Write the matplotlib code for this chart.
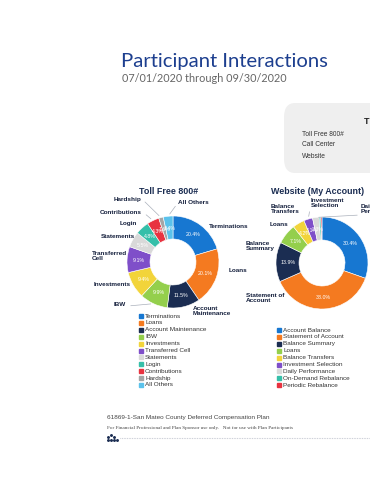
import numpy as np
import matplotlib.pyplot as plt
from matplotlib.lines import Line2D
from matplotlib.patches import FancyBboxPatch

W, H = 370, 480

# data
toll_labels = ['Terminations', 'Loans', 'Account Maintenance', 'IBW', 'Investments',
               'Transferred Cell', 'Statements', 'Login', 'Contributions', 'Hardship', 'All Others']
toll_values = [20.4, 20.1, 11.5, 9.9, 9.4, 9.1, 5.5, 4.8, 4.3, 1.6, 3.4]
toll_colors = ['#1777d1', '#f47a20', '#1b2d52', '#94cf4c', '#f2d43a',
               '#7f4fc9', '#d9d9d9', '#35bfa9', '#e83340', '#a5a5a5', '#5bc2eb']

web_labels = ['Account Balance', 'Statement of Account', 'Balance Summary', 'Loans',
              'Balance Transfers', 'Investment Selection', 'Daily Performance',
              'On-Demand Rebalance', 'Periodic Rebalance']
web_values = [30.4, 38.0, 13.9, 7.1, 4.2, 3.1, 2.3, 0.6, 0.4]
web_colors = ['#1777d1', '#f47a20', '#1b2d52', '#94cf4c', '#f2d43a',
              '#7f4fc9', '#d9d9d9', '#35bfa9', '#e83340']

channels = ['Toll Free 800#', 'Call Center', 'Website']

NAVY = '#1b2d52'
plt.rcParams['font.family'] = ['Liberation Sans', 'DejaVu Sans']


def P(x, y):
    return x / W, 1 - y / H


fig = plt.figure(figsize=(W / 100, H / 100), dpi=100)

# title block
fig.text(*P(121, 62), 'Participant Interactions', fontsize=14.6, color='#1d3f8f',
         va='center', ha='left', family=['Lato', 'DejaVu Sans'])
fig.text(*P(122, 79), '07/01/2020 through 09/30/2020', fontsize=7.8, color='#666666',
         va='center', ha='left', family=['Lato', 'DejaVu Sans'])

# grey box upper right
box = FancyBboxPatch(P(284, 173), 0.4, 70 / H, boxstyle='round,pad=0,rounding_size=0.03',
                     transform=fig.transFigure, facecolor='#efefef', edgecolor='none')
fig.patches.append(box)
fig.text(*P(364, 122), 'T', fontsize=6.5, weight='bold', va='center', ha='left', color='#222222')
for i, c in enumerate(channels):
    fig.text(*P(302, 134 + i * 11), c, fontsize=4.8, va='center', ha='left', color='#333333')


def donut(cx, cy, values, colors, title, tx):
    ax = fig.add_axes([(cx - 50) / W, 1 - (cy + 50) / H, 100 / W, 100 / H])
    wedges, _, pcts = ax.pie(values, colors=colors, startangle=90, counterclock=False,
                             radius=0.92, autopct=lambda p: '%.1f%%' % p if p > 1.5 else '',
                             pctdistance=0.74,
                             wedgeprops=dict(width=0.46, edgecolor='white', linewidth=0.4),
                             textprops=dict(color='white', fontsize=3.8))
    ax.set_xlim(-1, 1)
    ax.set_ylim(-1, 1)
    ax.set_aspect('equal')
    ax.axis('off')
    fig.text(*P(tx, 191), title, fontsize=6.4, weight='bold', color=NAVY, ha='center', va='center')
    return ax, wedges


def wedge_point(w, r=0.92):
    a = np.deg2rad((w.theta1 + w.theta2) / 2)
    return r * np.cos(a), r * np.sin(a)


ax1, w1 = donut(173, 262, toll_values, toll_colors, 'Toll Free 800#', 169)
ax2, w2 = donut(322, 263, web_values, web_colors, 'Website (My Account)', 318)

lab = dict(fontsize=4.6, weight='bold', color='#15203d', va='center', linespacing=1.0)

# toll free labels: (text, x, y, ha, wedge index with leader line or None)
toll_callouts = [
    ('Terminations', 209, 226, 'left', None),
    ('Loans', 229, 270, 'left', None),
    ('Account\nMaintenance', 193, 311, 'left', None),
    ('IBW', 126, 305, 'right', 3),
    ('Investments', 131, 285, 'right', None),
    ('Transferred\nCell', 92, 256, 'left', None),
    ('Statements', 135, 236, 'right', None),
    ('Login', 137, 224, 'right', None),
    ('Contributions', 142, 212, 'right', 8),
    ('Hardship', 141, 199, 'right', 9),
    ('All Others', 178, 203, 'left', 10),
]
for t, x, y, ha, wi in toll_callouts:
    fig.text(*P(x, y), t, ha=ha, **lab)
    if wi is not None:
        ex = x + 2 if ha == 'right' else x - 1
        ax1.annotate('', xy=wedge_point(w1[wi]), xycoords='data',
                     xytext=P(ex, y + 1), textcoords='figure fraction',
                     arrowprops=dict(arrowstyle='-', color='#aab0bb', lw=0.5))

web_callouts = [
    ('Balance\nTransfers', 271, 209, 'left', None),
    ('Investment\nSelection', 311, 203, 'left', 5),
    ('Daily\nPerformance', 361, 209, 'left', 6),
    ('Loans', 270, 225, 'left', None),
    ('Balance\nSummary', 246, 246, 'left', None),
    ('Statement of\nAccount', 246, 298, 'left', None),
]
for t, x, y, ha, wi in web_callouts:
    fig.text(*P(x, y), t, ha=ha, **lab)
    if wi is not None:
        ax2.annotate('', xy=wedge_point(w2[wi]), xycoords='data',
                     xytext=P(x - 1, y + 6), textcoords='figure fraction',
                     arrowprops=dict(arrowstyle='-', color='#aab0bb', lw=0.5))

# legends
def legend(x, y0, labels, colors):
    for i, (t, c) in enumerate(zip(labels, colors)):
        y = y0 + i * 6.9
        fig.add_artist(Line2D([P(x, y)[0]], [P(x, y)[1]], marker='s', markersize=2.3,
                              color=c, linestyle='none', transform=fig.transFigure))
        fig.text(*P(x + 4, y), t, fontsize=4.6, color='#333333', va='center', ha='left')


legend(141, 316, toll_labels, toll_colors)
legend(279, 330, web_labels, web_colors)

# footer
fig.text(*P(107, 418), '61869-1-San Mateo County Deferred Compensation Plan', fontsize=4.6,
         color='#444444', va='center', ha='left')
fig.text(*P(107, 428), 'For Financial Professional and Plan Sponsor use only.   Not for use with Plan Participants',
         fontsize=3.7, color='#444444', va='center', ha='left', family=['Liberation Serif', 'DejaVu Serif'])
fig.add_artist(Line2D([120 / W, 1], [1 - 438 / H] * 2, transform=fig.transFigure,
                      color='#b8bcc8', lw=0.8, linestyle=(0, (0.6, 0.9))))
for dx, dy in [(108, 437), (111, 435), (114, 437), (108, 440), (111, 440), (114, 440), (117, 440)]:
    fig.add_artist(Line2D([dx / W], [1 - dy / H], marker='o', markersize=1.1, color=NAVY,
                          linestyle='none', transform=fig.transFigure))

fig.savefig('out.png', dpi=100, facecolor='white')
